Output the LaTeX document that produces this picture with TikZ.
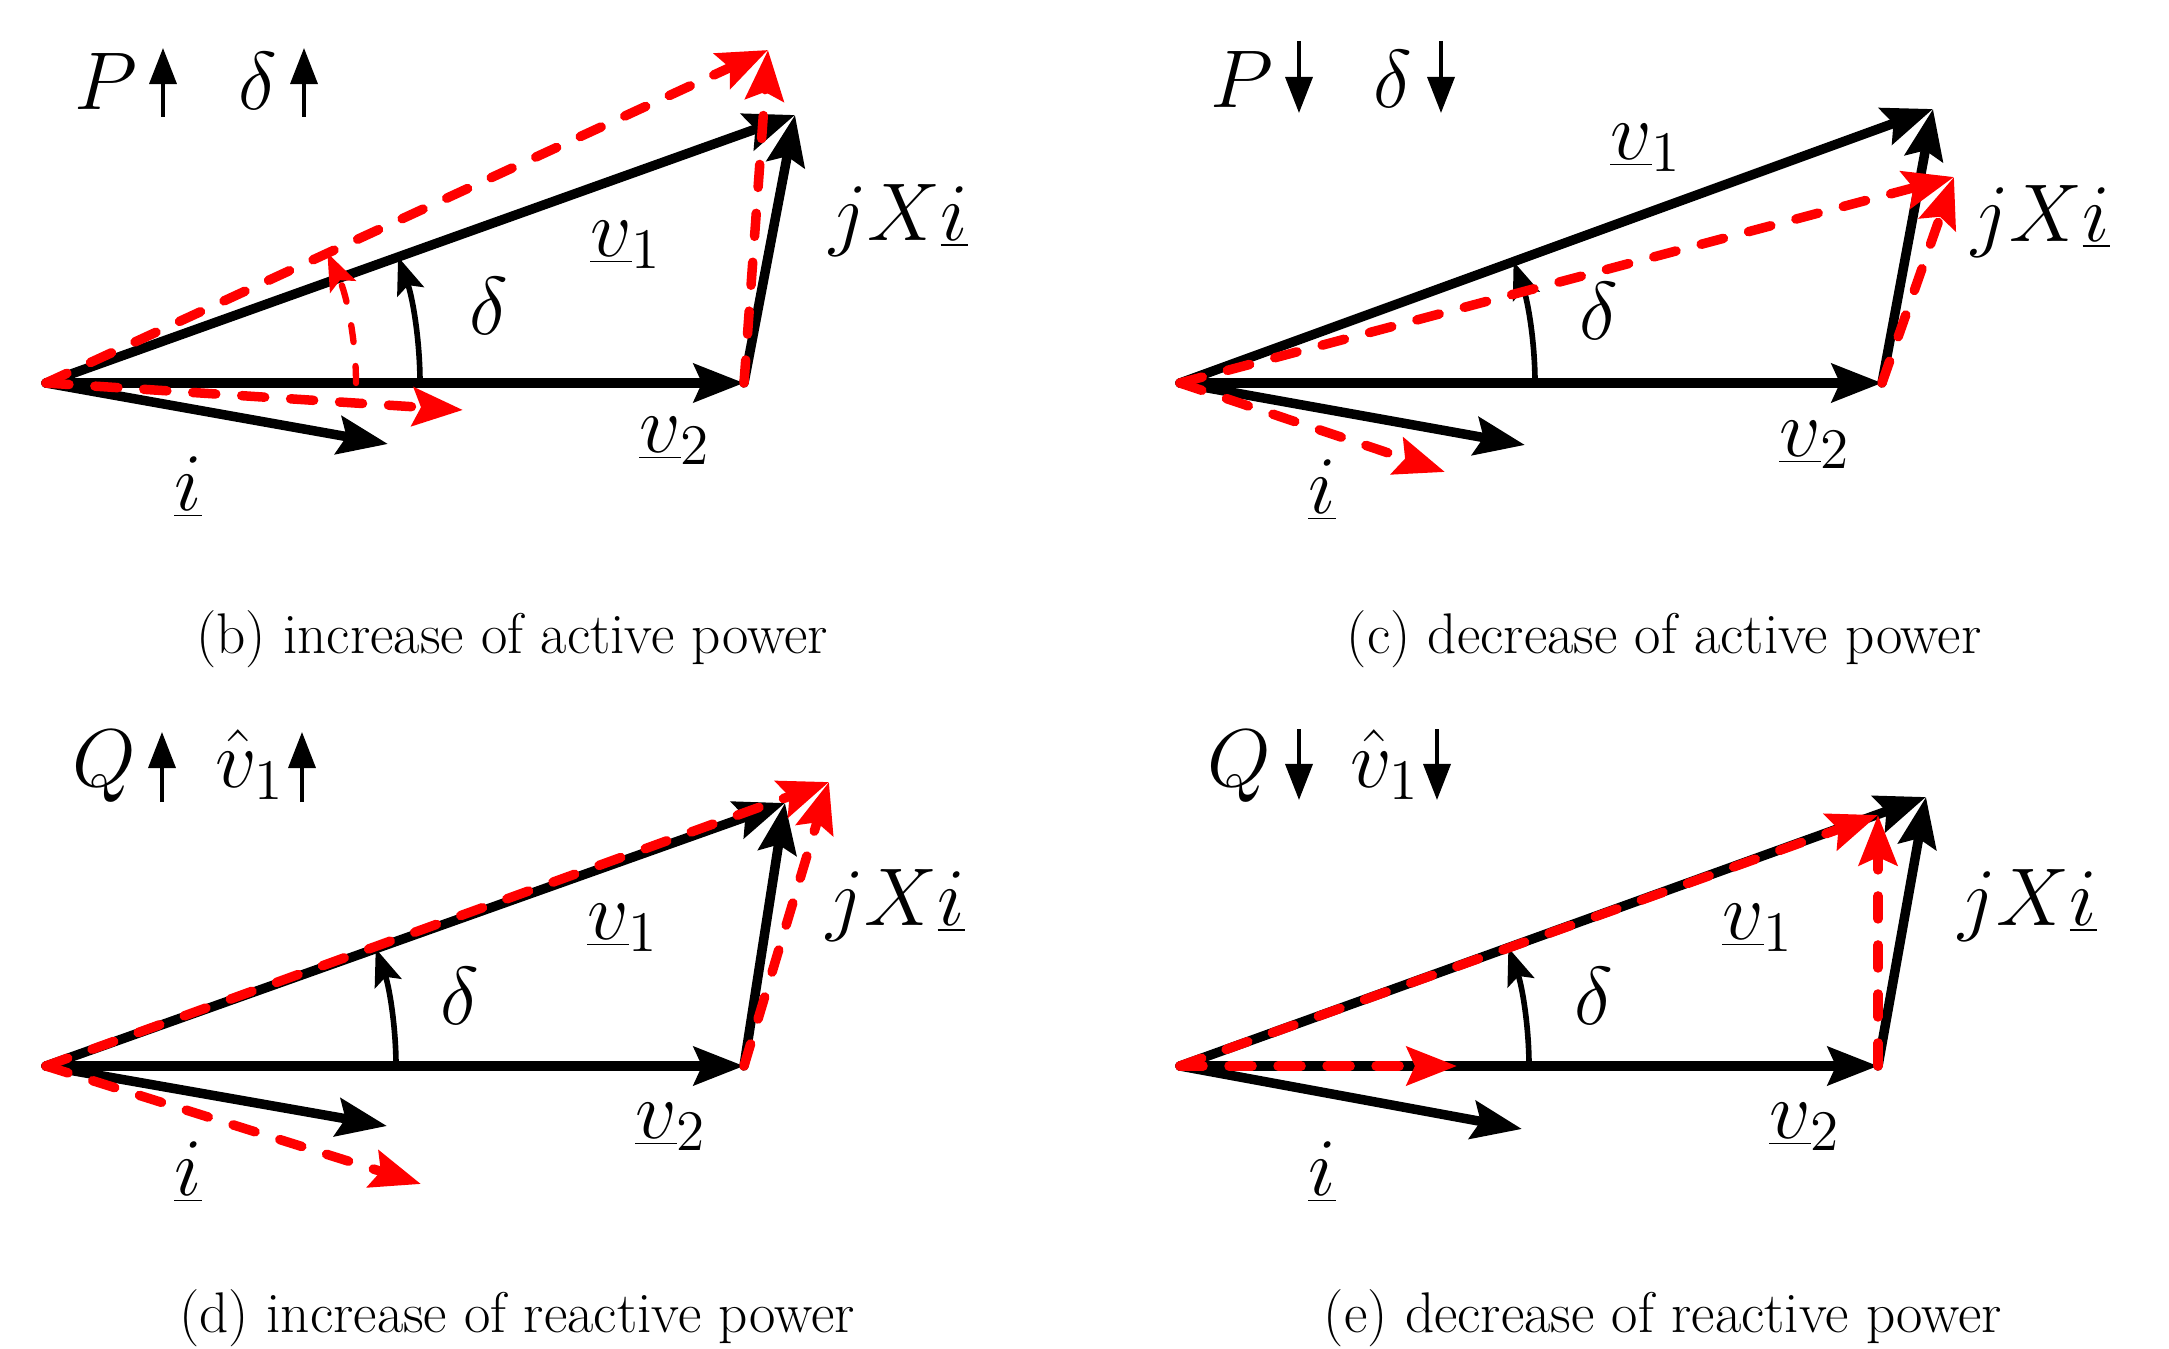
\RequirePackage{fix-cm}
\documentclass[tikz,border=0pt]{standalone}
\usetikzlibrary{arrows.meta}
\begin{document}
\begin{tikzpicture}[x=0.01cm,y=-0.01cm,
  bvec/.style={draw=black,line width=0.095cm,line cap=round,-{Stealth[length=0.5cm,width=0.38cm,inset=0.08cm]}},
  rvec/.style={draw=red,line width=0.095cm,line cap=round,dash pattern=on 0.23cm off 0.26cm,-{Stealth[length=0.5cm,width=0.38cm,inset=0.08cm]}},
  barc/.style={draw=black,line width=1.6pt,-{Stealth[length=0.37cm,width=0.28cm,inset=0.07cm]}},
  rarc/.style={draw=red,line width=1.8pt,line cap=round,dash pattern=on 0.17cm off 0.24cm,-{Stealth[length=0.37cm,width=0.28cm,inset=0.07cm]}},
  hdr/.style={draw=black,line width=1pt,-{Triangle[length=0.36cm,width=0.27cm]}},
  lbl/.style={inner sep=0pt,font=\fontsize{23.3}{28}\selectfont},
  captxt/.style={inner sep=0pt,font=\fontsize{16.3}{19}\selectfont}]
\useasboundingbox (0,0) rectangle (2169,1349);

% ---------------- panel (b)
\coordinate (Ob) at (46,383);
\coordinate (V2b) at (744,383);
\coordinate (V1b) at (795,115);
\coordinate (Rb) at (768,50);
\coordinate (Ib) at (388,444);
\coordinate (IRb) at (463,410);
\coordinate (Ab) at (420,383);
\coordinate (ARb) at (356,383);
\draw[bvec] (Ob) -- (V2b);
\draw[bvec] (Ob) -- (V1b);
\draw[bvec] (V2b) -- (V1b);
\draw[bvec] (Ob) -- (Ib);
\draw[barc] (Ab) arc[start angle=0,end angle=19.7,radius=3.74cm];
\draw[rvec] (Ob) -- (Rb);
\draw[rvec] (V2b) -- (Rb);
\draw[rvec] (Ob) -- (IRb);
\draw[rarc] (ARb) arc[start angle=0,end angle=24.8,radius=3.10cm];
\node[lbl,anchor=base] (Pb) at (106,110) {$P$};
\node[lbl,anchor=base] (Db) at (258,110) {$\delta$};
\coordinate (hb1s) at (163,117); \coordinate (hb1e) at (163,48);
\coordinate (hb2s) at (304,117); \coordinate (hb2e) at (304,48);
\draw[hdr] (hb1s) -- (hb1e);
\draw[hdr] (hb2s) -- (hb2e);
\node[lbl] (v1b) at (626,245) {$\underline{v}_1$};
\node[lbl] (deltab) at (489,306) {$\delta$};
\node[lbl] (jxib) at (899,220) {$jX\underline{i}$};
\node[lbl] (v2b) at (675,441) {$\underline{v}_2$};
\node[lbl] (ib) at (188,487) {$\underline{i}$};
\node[captxt] (capb) at (512,639) {(b) increase of active power};

% ---------------- panel (c)
\coordinate (Oc) at (1180,383);
\coordinate (V2c) at (1882,383);
\coordinate (V1c) at (1933,109);
\coordinate (Rc) at (1954,177);
\coordinate (Ic) at (1525,445);
\coordinate (IRc) at (1445,472);
\coordinate (Ac) at (1535,383);
\draw[bvec] (Oc) -- (V2c);
\draw[bvec] (Oc) -- (V1c);
\draw[bvec] (V2c) -- (V1c);
\draw[bvec] (Oc) -- (Ic);
\draw[barc] (Ac) arc[start angle=0,end angle=20.0,radius=3.55cm];
\draw[rvec] (Oc) -- (Rc);
\draw[rvec] (V2c) -- (Rc);
\draw[rvec] (Oc) -- (IRc);
\node[lbl,anchor=base] (Pc) at (1242,108) {$P$};
\node[lbl,anchor=base] (Dc) at (1393,108) {$\delta$};
\coordinate (hc1s) at (1299,41); \coordinate (hc1e) at (1299,113);
\coordinate (hc2s) at (1441,41); \coordinate (hc2e) at (1441,113);
\draw[hdr] (hc1s) -- (hc1e);
\draw[hdr] (hc2s) -- (hc2e);
\node[lbl] (v1c) at (1646,148) {$\underline{v}_1$};
\node[lbl] (deltac) at (1599,311) {$\delta$};
\node[lbl] (jxic) at (2041,221) {$jX\underline{i}$};
\node[lbl] (v2c) at (1815,445) {$\underline{v}_2$};
\node[lbl] (ic) at (1322,490) {$\underline{i}$};
\node[captxt] (capc) at (1664,639) {(c) decrease of active power};

% ---------------- panel (d)
\coordinate (Od) at (46,1066);
\coordinate (V2d) at (744,1066);
\coordinate (V1d) at (785,803);
\coordinate (Rd) at (829,782);
\coordinate (Id) at (387,1126);
\coordinate (IRd) at (421,1184);
\coordinate (Ad) at (396,1066);
\draw[bvec] (Od) -- (V2d);
\draw[bvec] (Od) -- (V1d);
\draw[bvec] (V2d) -- (V1d);
\draw[bvec] (Od) -- (Id);
\draw[barc] (Ad) arc[start angle=0,end angle=19.6,radius=3.50cm];
\draw[rvec] (Od) -- (Rd);
\draw[rvec] (V2d) -- (Rd);
\draw[rvec] (Od) -- (IRd);
\node[lbl,anchor=base] (Qd) at (104,786) {$Q$};
\node[lbl,anchor=base] (Hd) at (250,787) {$\hat{v}_1$};
\coordinate (hd1s) at (162,802); \coordinate (hd1e) at (162,732);
\coordinate (hd2s) at (302,802); \coordinate (hd2e) at (302,732);
\draw[hdr] (hd1s) -- (hd1e);
\draw[hdr] (hd2s) -- (hd2e);
\node[lbl] (v1d) at (623,928) {$\underline{v}_1$};
\node[lbl] (deltad) at (460,996) {$\delta$};
\node[lbl] (jxid) at (896,905) {$jX\underline{i}$};
\node[lbl] (v2d) at (671,1127) {$\underline{v}_2$};
\node[lbl] (id) at (188,1172) {$\underline{i}$};
\node[captxt] (capd) at (517,1318) {(d) increase of reactive power};

% ---------------- panel (e)
\coordinate (Oe) at (1180,1066);
\coordinate (V2e) at (1878,1066);
\coordinate (V1e) at (1926,797);
\coordinate (Re) at (1878,815);
\coordinate (Ie) at (1522,1129);
\coordinate (IRe) at (1457,1066);
\coordinate (Ae) at (1529,1066);
\draw[bvec] (Oe) -- (V2e);
\draw[bvec] (Oe) -- (V1e);
\draw[bvec] (V2e) -- (V1e);
\draw[bvec] (Oe) -- (Ie);
\draw[barc] (Ae) arc[start angle=0,end angle=19.8,radius=3.49cm];
\draw[rvec] (Oe) -- (Re);
\draw[rvec] (V2e) -- (Re);
\draw[rvec] (Oe) -- (IRe);
\node[lbl,anchor=base] (Qe) at (1239,786) {$Q$};
\node[lbl,anchor=base] (He) at (1385,787) {$\hat{v}_1$};
\coordinate (he1s) at (1299,729); \coordinate (he1e) at (1299,800);
\coordinate (he2s) at (1437,729); \coordinate (he2e) at (1437,800);
\draw[hdr] (he1s) -- (he1e);
\draw[hdr] (he2s) -- (he2e);
\node[lbl] (v1e) at (1758,928) {$\underline{v}_1$};
\node[lbl] (deltae) at (1594,996) {$\delta$};
\node[lbl] (jxie) at (2028,905) {$jX\underline{i}$};
\node[lbl] (v2e) at (1805,1127) {$\underline{v}_2$};
\node[lbl] (ie) at (1322,1172) {$\underline{i}$};
\node[captxt] (cape) at (1663,1318) {(e) decrease of reactive power};
\end{tikzpicture}
\end{document}
